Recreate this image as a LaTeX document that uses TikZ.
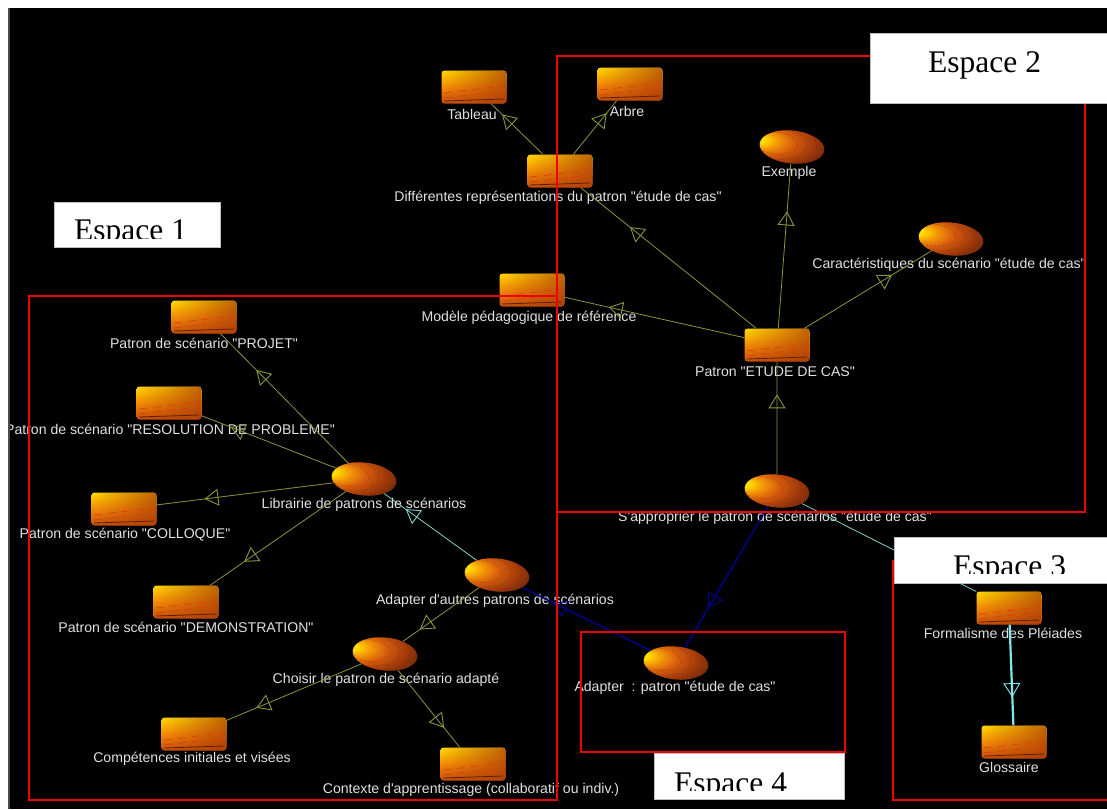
\documentclass[tikz,border=0pt]{standalone}
\usepackage{fontspec}
\setmainfont[Ligatures=TeXOff]{Liberation Sans}
\newfontfamily\espacefont{Liberation Serif}
\usetikzlibrary{arrows.meta,decorations.markings,fadings,shapes.geometric}
\definecolor{linkolive}{RGB}{140,150,60}
\definecolor{linkcyan}{RGB}{130,210,205}
\definecolor{linkbright}{RGB}{130,230,235}
\definecolor{linkblue}{RGB}{0,0,140}
\definecolor{framered}{RGB}{240,0,0}
\definecolor{labelgray}{RGB}{225,225,225}
\definecolor{podring}{RGB}{110,40,5}
\definecolor{barside}{RGB}{170,60,5}
\definecolor{bardash}{RGB}{225,60,15}
\definecolor{barlow}{RGB}{90,30,5}
\pgfdeclareverticalshading{barshade}{100bp}{rgb(0bp)=(.12,.04,.01); rgb(14bp)=(.42,.15,.03); rgb(28bp)=(.8,.33,.04); rgb(50bp)=(.96,.55,.03); rgb(70bp)=(1,.8,0); rgb(85bp)=(1,.93,0); rgb(95bp)=(.92,.5,0); rgb(100bp)=(.5,.18,0)}
\pgfdeclareradialshading{podshade}{\pgfpoint{-28bp}{10bp}}{rgb(0bp)=(1,.95,0); rgb(5bp)=(1,.85,0); rgb(11bp)=(.96,.6,.03); rgb(19bp)=(.84,.36,.05); rgb(29bp)=(.62,.22,.04); rgb(39bp)=(.38,.14,.03); rgb(50bp)=(.25,.1,.02)}
\tikzset{
  barre/.style={minimum width=65pt,minimum height=33pt,inner sep=0pt,rounded corners=3pt,shading=barshade,
    path picture={
      \fill[barside,fill opacity=.75,path fading=west] (path picture bounding box.south west) rectangle (path picture bounding box.north east);
      \begin{scope}[shift={(path picture bounding box.center)}]
        \draw[bardash,dash pattern=on 8pt off 6pt,line width=.7pt] (-30,6) -- (30,-1);
        \draw[bardash,dash pattern=on 9pt off 5pt,line width=.7pt] (-30,11) -- (30,4);
        \draw[barlow,line width=.8pt] (-30,14) -- (30,12);
      \end{scope}
    }},
  pod/.style={ellipse,rotate=-6,minimum width=65pt,minimum height=33pt,inner sep=0pt,shading=podshade,
    path picture={
      \begin{scope}[shift={(path picture bounding box.center)}]
        \draw[podring,draw opacity=.6,dash pattern=on 2pt off 2pt,line width=.4pt] (-17,-2) ellipse (22 and 11) (-17,-2) ellipse (32 and 16) (-17,-2) ellipse (42 and 21);
      \end{scope}
    }},
  etiq/.style={text=labelgray,font=\fontsize{14.1}{16}\selectfont,inner sep=0pt,yshift=-1pt},
  espbox/.style={fill=white,draw=gray!50,line width=.4pt,inner sep=0pt},
  esptext/.style={font=\espacefont\fontsize{31.5}{33}\selectfont,inner sep=0pt,text=black,anchor=base west},
  cadre/.style={draw=framered,line width=1.6pt},
  link/.style={draw=#1,line width=.8pt,postaction={decorate}},
  at frac/.style={decoration={markings,mark=at position #1 with {\arrow[line width=.9pt]{Triangle[open,length=14pt,width=17pt]}}}}
}
\begin{document}
\begin{tikzpicture}[x=1pt,y=-1pt]
\useasboundingbox (0,0) rectangle (1107,809);
\fill[white] (0,0) rectangle (1107,809);
\fill[black] (8,8) rectangle (1107,809);
\draw[gray!60!black,line width=1.5pt] (9,8) -- (9,809);
\begin{scope}
\clip (10,8) rectangle (1107,809);
% barres
\node[barre] (tableau) at (474,87) {};
\node[barre] (arbre) at (630,84) {};
\node[barre] (differentes) at (560,171) {};
\node[barre] (modele) at (532,290) {};
\node[barre] (patron) at (777,345) {};
\node[barre] (formalisme) at (1009,608) {};
\node[barre] (glossaire) at (1014,742) {};
\node[barre] (projet) at (204,317) {};
\node[barre] (resolution) at (169,403) {};
\node[barre] (colloque) at (124,509) {};
\node[barre] (demo) at (186,602) {};
\node[barre] (competences) at (194,734) {};
\node[barre] (contexte) at (473,764) {};
% pods
\node[pod] (exemple) at (792,147) {};
\node[pod] (carac) at (951,239) {};
\node[pod] (approprier) at (777,491) {};
\node[pod] (adapter) at (676,663) {};
\node[pod] (autres) at (497,575) {};
\node[pod] (librairie) at (364,479) {};
\node[pod] (choisir) at (385,654) {};
% labels
\node[etiq] (tableauL) at (472,113) {Tableau};
\node[etiq] (arbreL) at (627,110) {Arbre};
\node[etiq] (differentesL) at (558,197) {Différentes représentations du patron "étude de cas"};
\node[etiq] (exempleL) at (789,172) {Exemple};
\node[etiq] (caracL) at (949,264) {Caractéristiques du scénario "étude de cas"};
\node[etiq] (modeleL) at (529,317) {Modèle pédagogique de référence};
\node[etiq] (patronL) at (775,371) {Patron "ETUDE DE CAS"};
\node[etiq] (approprierL) at (775,517) {S'approprier le patron de scénarios "étude de cas"};
\node[etiq] (formalismeL) at (1003,632) {Formalisme des Pléiades};
\node[etiq] (glossaireL) at (1009,766) {Glossaire};
\node[etiq] (adapterL) at (675,687) {Adapter~~: patron "étude de cas"};
\node[etiq] (autresL) at (495,600) {Adapter d'autres patrons de scénarios};
\node[etiq] (librairieL) at (364,504) {Librairie de patrons de scénarios};
\node[etiq] (projetL) at (204,342) {Patron de scénario "PROJET"};
\node[etiq] (resolutionL) at (170,428) {Patron de scénario "RESOLUTION DE PROBLEME"};
\node[etiq] (colloqueL) at (125,534) {Patron de scénario "COLLOQUE"};
\node[etiq] (demoL) at (186,626) {Patron de scénario "DEMONSTRATION"};
\node[etiq] (choisirL) at (386,679) {Choisir le patron de scénario adapté};
\node[etiq] (competencesL) at (192,758) {Compétences initiales et visées};
\node[etiq] (contexteL) at (471,789) {Contexte d'apprentissage (collaboratif ou indiv.)};
% liens
\draw[link=linkolive,at frac=.79] (differentes) -- (tableau);
\draw[link=linkolive,at frac=.77] (differentes) -- (arbre);
\draw[link=linkolive,at frac=.72] (patron) -- (differentes);
\draw[link=linkolive,at frac=.755] (patron) -- (modele);
\draw[link=linkolive,at frac=.71] (patron) -- (exemple);
\draw[link=linkolive,at frac=.69] (patron) -- (carac);
\draw[link=linkolive,at frac=.71] (approprier) -- (patron);
\draw[link=linkolive,at frac=.72] (librairie) -- (projet);
\draw[link=linkolive,at frac=.785] (librairie) -- (resolution);
\draw[link=linkolive,at frac=.73] (librairie) -- (colloque);
\draw[link=linkolive,at frac=.75] (librairie) -- (demo);
\draw[link=linkolive,at frac=.78] (autres) -- (choisir);
\draw[link=linkolive,at frac=.78] (choisir) -- (competences);
\draw[link=linkolive,at frac=.75] (choisir) -- (contexte);
\draw[link=linkcyan,at frac=.77] (autres) -- (librairie);
\draw[link=linkblue,line width=1.4pt,at frac=.76] (adapter) -- (autres);
\draw[link=linkblue,line width=1.4pt,at frac=.72] (approprier) -- (adapter);
\draw[link=linkcyan,at frac=.72] (approprier) -- (formalisme);
\draw[link=linkbright,line width=2.2pt,at frac=.72] (formalisme) -- (glossaire);
% cadres
\draw[cadre] (557,56) rectangle (1085,512);
\draw[cadre] (29,296) rectangle (557,800);
\draw[cadre] (581,632) rectangle (845,752);
\draw[cadre] (893,560) -- (893,800) -- (1107,800);
% espaces
\node[espbox,minimum width=166pt,minimum height=45pt] (esp1) at (137,224.5) {};
\node[espbox,minimum width=240pt,minimum height=70pt] (esp2) at (990,68) {};
\node[espbox,minimum width=213pt,minimum height=46pt] (esp3) at (1001,560) {};
\node[espbox,minimum width=190pt,minimum height=46pt] (esp4) at (749,776) {};
\node[esptext] (esp2T) at (928,72) {Espace 2};
\begin{scope}
\clip (54,202) rectangle (220,238);
\node[esptext] (esp1T) at (74,240) {Espace 1};
\end{scope}
\begin{scope}
\clip (894,537) rectangle (1107,573);
\node[esptext] (esp3T) at (953,576) {Espace 3};
\end{scope}
\begin{scope}
\clip (654,753) rectangle (844,790);
\node[esptext] (esp4T) at (674,793) {Espace 4};
\end{scope}
\end{scope}
\end{tikzpicture}
\end{document}
